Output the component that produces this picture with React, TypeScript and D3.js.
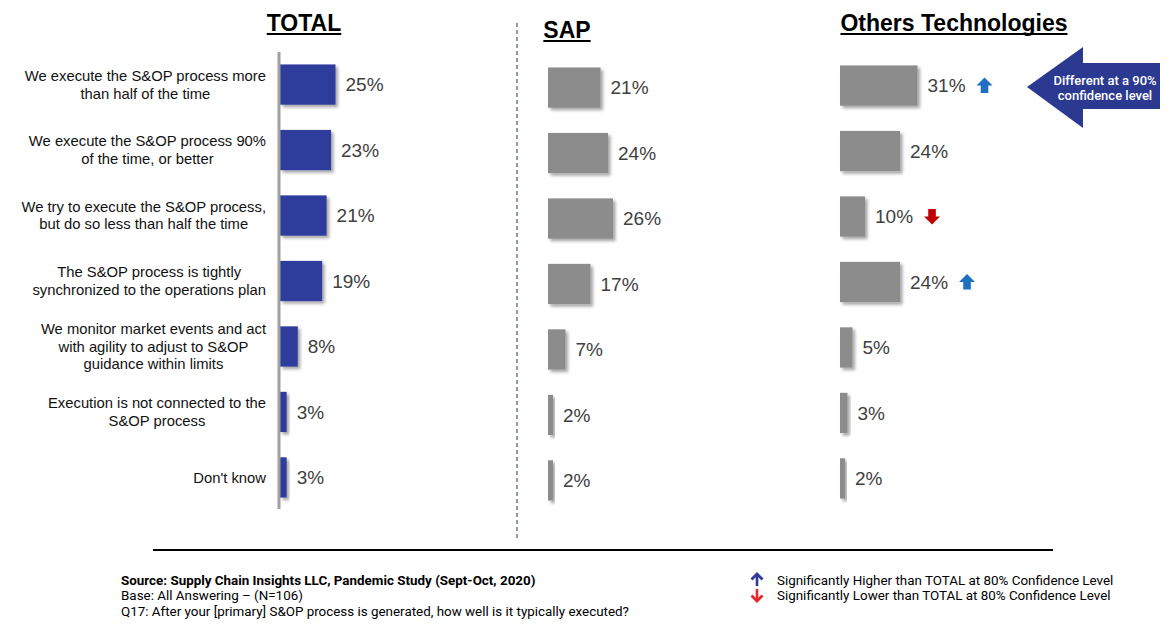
import React, { useRef, useEffect } from "react";
import * as d3 from "d3";

// categories (each entry is the wrapped label lines)
const categories = [
  ["We execute the S&OP process more", "than half of the time"],
  ["We execute the S&OP process 90%", "of the time, or better"],
  ["We try to execute the S&OP process,", "but do so less than half the time"],
  ["The S&OP process is tightly", "synchronized to the operations plan"],
  ["We monitor market events and act", "with agility to adjust to S&OP", "guidance within limits"],
  ["Execution is not connected to the", "S&OP process"],
  ["Don't know"],
];

const totalValues = [25, 23, 21, 19, 8, 3, 3];
const sapValues = [21, 24, 26, 17, 7, 2, 2];
const otherValues = [31, 24, 10, 24, 5, 3, 2];
const otherSig = ["up", null, "down", "up", null, null, null];

const panelTitles = ["TOTAL", "SAP", "Others Technologies"];

const sourceLines = [
  "Source: Supply Chain Insights LLC, Pandemic Study (Sept-Oct, 2020)",
  "Base: All Answering \u2013 (N=106)",
  "Q17: After your [primary] S&OP process is generated, how well is it typically executed?",
];
const legendItems = [
  { dir: "up", text: "Significantly Higher than TOTAL at 80% Confidence Level" },
  { dir: "down", text: "Significantly Lower than TOTAL at 80% Confidence Level" },
];
const calloutLines = ["Different at a 90%", "confidence level"];

const W = 1174;
const H = 626;
const ARIAL = "'Liberation Sans', Arial, sans-serif";
const ROBOTO = "Roboto, 'Noto Sans', sans-serif";

export default function App() {
  const svgRef = useRef<SVGSVGElement>(null);

  useEffect(() => {
    if (!svgRef.current) return;
    const svg = d3.select(svgRef.current);
    svg.selectAll("*").remove();

    // drop shadow for bars
    const defs = svg.append("defs");
    const f = defs.append("filter").attr("id", "barShadow")
      .attr("x", "-20%").attr("y", "-20%").attr("width", "160%").attr("height", "160%");
    f.append("feDropShadow")
      .attr("dx", 2.5).attr("dy", 2.5).attr("stdDeviation", 1.6)
      .attr("flood-color", "#000").attr("flood-opacity", 0.35);

    const rowKeys = categories.map((_, i) => String(i));
    const yScale = d3.scaleBand()
      .domain(rowKeys)
      .range([52, 510])
      .paddingInner(0.385)
      .paddingOuter(0.19);

    // category labels: block right-aligned, lines centred within block
    const labelRight = 266;
    const lineH = 17.5;
    categories.forEach((lines, i) => {
      const cy = (yScale(String(i)) || 0) + yScale.bandwidth() / 2;
      const g = svg.append("g");
      const texts = lines.map((ln, j) =>
        g.append("text")
          .attr("y", cy + (j - (lines.length - 1) / 2) * lineH)
          .attr("dy", "0.35em")
          .attr("text-anchor", "middle")
          .style("font-family", ARIAL)
          .style("font-size", "14.8px")
          .style("fill", "#111")
          .text(ln)
      );
      const maxW = d3.max(texts, t => (t.node() as SVGTextElement).getComputedTextLength()) || 0;
      texts.forEach(t => t.attr("x", labelRight - maxW / 2));
    });

    // panels
    const panels = [
      { values: totalValues, x0: 280, pxPerPct: 2.22, color: "#2f3c9c", dy: 0, sig: null as (string | null)[] | null, titleX: 304, titleY: 31 },
      { values: sapValues, x0: 548, pxPerPct: 2.5, color: "#8c8c8c", dy: 3, sig: null, titleX: 567, titleY: 38 },
      { values: otherValues, x0: 840, pxPerPct: 2.5, color: "#8c8c8c", dy: 1, sig: otherSig, titleX: 954, titleY: 31 },
    ];

    panels.forEach((p, pi) => {
      const xScale = d3.scaleLinear().domain([0, 100]).range([p.x0, p.x0 + 100 * p.pxPerPct]);
      const g = svg.append("g");

      g.selectAll("rect")
        .data(p.values)
        .enter()
        .append("rect")
        .attr("x", xScale(0))
        .attr("y", (_, i) => (yScale(String(i)) || 0) + p.dy)
        .attr("width", d => xScale(d) - xScale(0))
        .attr("height", yScale.bandwidth())
        .attr("fill", p.color)
        .attr("filter", "url(#barShadow)");

      const labels = g.selectAll("text.val")
        .data(p.values)
        .enter()
        .append("text")
        .attr("class", "val")
        .attr("x", d => xScale(d) + 10)
        .attr("y", (_, i) => (yScale(String(i)) || 0) + yScale.bandwidth() / 2 + p.dy)
        .attr("dy", "0.36em")
        .style("font-family", ARIAL)
        .style("font-size", "19px")
        .style("fill", "#404040")
        .text(d => `${d}%`);

      // significance arrows
      if (p.sig) {
        labels.each(function (d, i) {
          const s = p.sig![i];
          if (!s) return;
          const tw = (this as SVGTextElement).getComputedTextLength();
          const ax = xScale(d) + 10 + tw + 19;
          const ay = (yScale(String(i)) || 0) + yScale.bandwidth() / 2 + p.dy;
          const up = "M0,-8 L8,0 L3.8,0 L3.8,7.5 L-3.8,7.5 L-3.8,0 L-8,0 Z";
          g.append("path")
            .attr("d", up)
            .attr("transform", `translate(${ax},${ay}) ${s === "down" ? "rotate(180)" : ""}`)
            .attr("fill", s === "up" ? "#1f70c1" : "#c00000");
        });
      }

      // title with underline
      const t = svg.append("text")
        .attr("x", p.titleX)
        .attr("y", p.titleY)
        .attr("text-anchor", "middle")
        .style("font-family", ARIAL)
        .style("font-weight", "bold")
        .style("font-size", "23px")
        .style("fill", "#000")
        .text(panelTitles[pi]);
      const tw = (t.node() as SVGTextElement).getComputedTextLength();
      svg.append("line")
        .attr("x1", p.titleX - tw / 2).attr("x2", p.titleX + tw / 2)
        .attr("y1", p.titleY + 3).attr("y2", p.titleY + 3)
        .attr("stroke", "#000").attr("stroke-width", 2);
    });

    // TOTAL axis line
    svg.append("line")
      .attr("x1", 279).attr("x2", 279).attr("y1", 52).attr("y2", 509)
      .attr("stroke", "#a0a0a0").attr("stroke-width", 3);

    // dashed divider
    svg.append("line")
      .attr("x1", 517).attr("x2", 517).attr("y1", 23).attr("y2", 541)
      .attr("stroke", "#6674b0").attr("stroke-width", 1.5)
      .attr("stroke-dasharray", "4,3");

    // callout arrow
    svg.append("path")
      .attr("d", "M1027,87 L1083,47 L1083,63 L1160,63 L1160,109 L1083,109 L1083,128 Z")
      .attr("fill", "#2b3990");
    calloutLines.forEach((ln, i) => {
      svg.append("text")
        .attr("x", 1105)
        .attr("y", 80 + i * 15.5)
        .attr("dy", "0.35em")
        .attr("text-anchor", "middle")
        .style("font-family", ROBOTO)
        .style("font-size", "13px")
        .style("font-weight", 500)
        .style("fill", "#fff")
        .text(ln);
    });

    // footer rule
    svg.append("line")
      .attr("x1", 153).attr("x2", 1053).attr("y1", 550).attr("y2", 550)
      .attr("stroke", "#000").attr("stroke-width", 2);

    sourceLines.forEach((ln, i) => {
      svg.append("text")
        .attr("x", 121)
        .attr("y", 580 + i * 15.5)
        .attr("dy", "0.35em")
        .style("font-family", ROBOTO)
        .style("font-size", "13.4px")
        .style("font-weight", i === 0 ? "bold" : "normal")
        .style("fill", "#000")
        .text(ln);
    });

    legendItems.forEach((it, i) => {
      const y = 580 + i * 15;
      const col = it.dir === "up" ? "#2e3a9a" : "#e8262a";
      const sign = it.dir === "up" ? 1 : -1;
      svg.append("line")
        .attr("x1", 757).attr("x2", 757)
        .attr("y1", y - 5 * sign).attr("y2", y + 6 * sign)
        .attr("stroke", col).attr("stroke-width", 2.6);
      svg.append("path")
        .attr("d", `M${751.5},${y - 0.5 * sign} L757,${y - 6 * sign} L${762.5},${y - 0.5 * sign}`)
        .attr("fill", "none").attr("stroke", col).attr("stroke-width", 2.8);
      svg.append("text")
        .attr("x", 777)
        .attr("y", y)
        .attr("dy", "0.35em")
        .style("font-family", ROBOTO)
        .style("font-size", "13.4px")
        .style("fill", "#000")
        .text(it.text);
    });
  }, []);

  return (
    <svg
      ref={svgRef}
      width={W}
      height={H}
      style={{ position: "absolute", left: 0, top: 0, background: "#fff" }}
    />
  );
}
